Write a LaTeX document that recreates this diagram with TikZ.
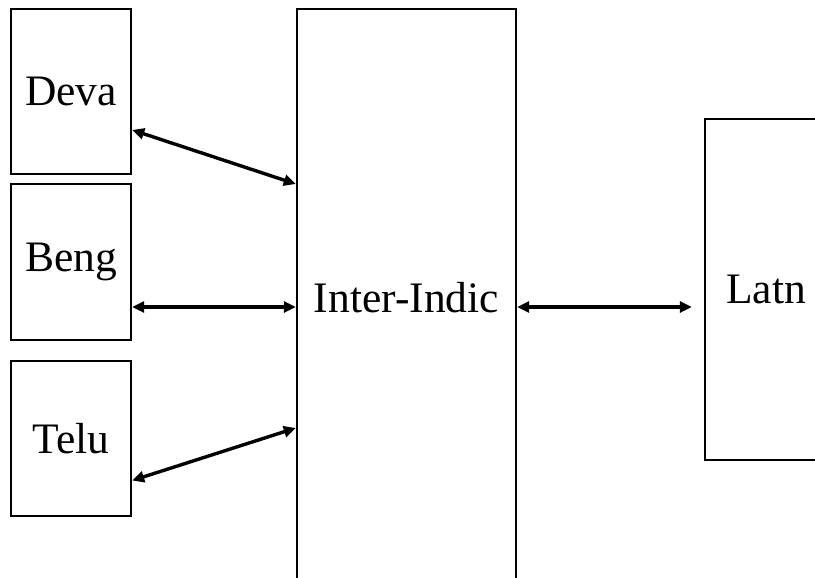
\documentclass[tikz,border=0pt]{standalone}
\usepackage{fontspec}
\setmainfont{Liberation Serif}
\usetikzlibrary{arrows.meta}
\begin{document}
\begin{tikzpicture}[x=1pt,y=-1pt,
  box/.style={draw=black, line width=2.4pt, rectangle, inner sep=0pt, font=\fontsize{43.5}{50}\selectfont},
  link/.style={line width=3.4pt, {Triangle[length=12pt,width=11pt]}-{Triangle[length=12pt,width=11pt]}}]
\useasboundingbox (0,0) rectangle (815,578);
\clip (0,0) rectangle (815,578);
\fill[white] (0,0) rectangle (815,578);
\node[box, minimum width=120pt, minimum height=165pt] (deva) at (71,91.5) {Deva};
\node[box, minimum width=120pt, minimum height=156pt] (beng) at (71,262) {Beng};
\node[box, minimum width=120pt, minimum height=155pt] (telu) at (71,438.5) {Telu};
\node[box, minimum width=219pt, minimum height=578pt] (inter) at (406.5,298) {Inter-Indic};
\node[box, minimum width=122pt, minimum height=341pt] (latn) at (766,289.5) {Latn};
\coordinate (latnend) at ([xshift=-12pt,yshift=-17.5pt]latn.west);
\draw[link] ([yshift=-38.5pt]deva.east) -- ([yshift=114pt]inter.west);
\draw[link] ([yshift=-45pt]beng.east) -- ([yshift=-9pt]inter.west);
\draw[link] ([yshift=-42pt]telu.east) -- ([yshift=-130pt]inter.west);
\draw[link] ([yshift=-9pt]inter.east) -- (latnend);
\end{tikzpicture}
\end{document}
